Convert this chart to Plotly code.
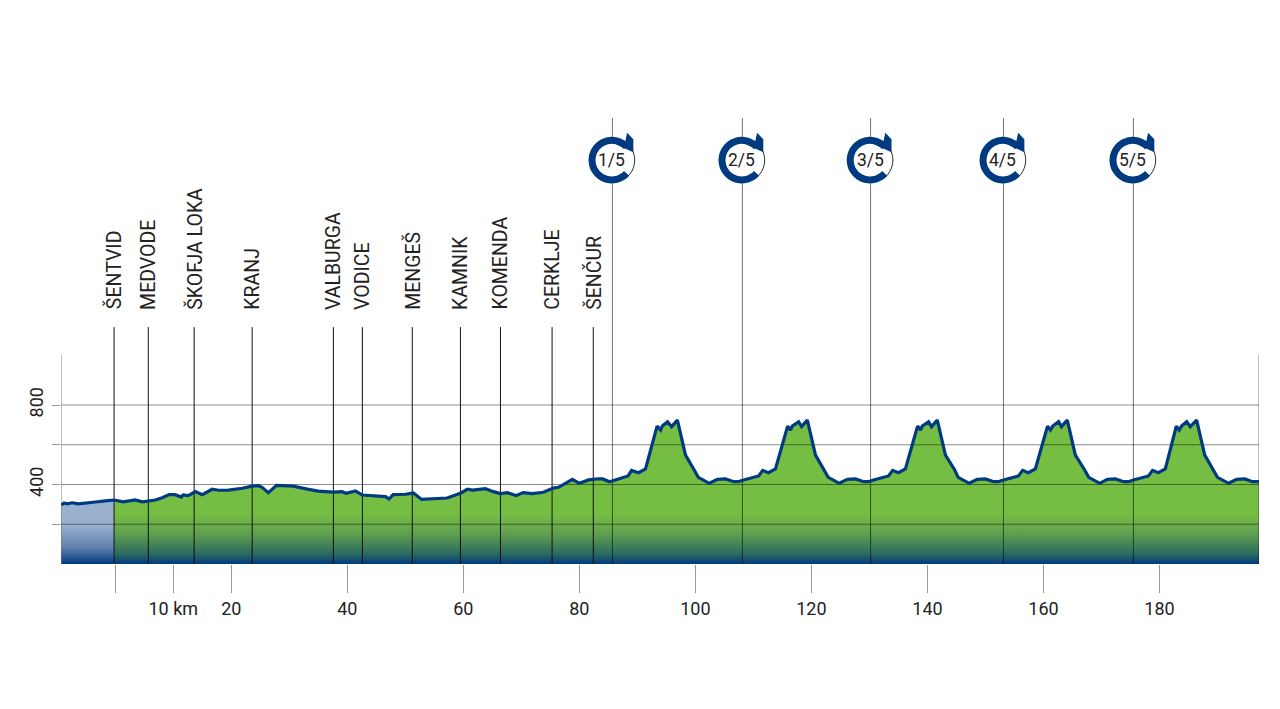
import math
import plotly.graph_objects as go

# neutral section
neutral_km = [-9.3,-8.8,-8.3,-7.4,-6.4,-5.2,-3.4,-1.7,-0.2]
neutral_m = [297,307,303,308,303,305,312,318,322]

# race section
race_km = [-0.2,1.4,3.4,4.7,6.9,8.1,9.3,10.3,11.4,11.7,12.6,13.8,15.0,16.7,17.8,19.5,21.9,23.6,24.7,25.3,26.4,27.8,30.7,33.1,35.0,37.6,39.1,39.8,41.4,42.6,44.5,46.6,47.2,47.9,50.0,51.4,52.8,55.5,57.2,59.5,60.7,61.6,63.8,65.2,66.4,67.6,69.1,70.3,71.9,73.8,75.5,76.4,78.8,80.0,81.6,83.3,84.0,85.2,
88.4,89.0,90.2,91.4,93.4,94.0,94.3,95.2,95.9,96.9,98.3,99.8,100.5,102.4,103.8,105.2,106.6,107.4,108.3,
110.9,111.6,112.6,113.8,115.9,116.4,116.7,117.8,118.3,119.3,120.7,122.2,122.9,124.8,126.2,127.6,129.0,129.8,130.7,
133.3,134.0,135.0,136.2,138.3,138.8,139.1,140.2,140.7,141.7,143.1,144.7,145.3,147.2,148.6,150.0,151.4,152.2,153.1,
155.7,156.4,157.4,158.6,160.7,161.2,161.6,162.6,163.1,164.1,165.5,167.1,167.8,169.7,171.0,172.4,173.8,174.7,175.5,
178.1,178.8,179.8,181.0,182.9,183.4,183.8,184.7,185.3,186.4,187.8,189.3,190.0,191.9,193.3,194.7,196.0,197.2]
race_m = [322,313,322,313,322,333,349,349,337,347,344,364,349,376,371,372,381,392,394,386,359,396,392,377,367,362,364,356,367,347,342,339,327,349,351,357,325,327,332,356,376,372,379,364,354,359,344,359,354,361,382,386,426,406,423,429,428,414,
443,471,459,478,694,674,694,716,691,724,548,473,436,406,426,428,414,414,423,
443,471,459,478,694,674,694,716,691,724,548,473,436,406,426,428,414,414,423,
443,471,459,478,694,674,694,716,691,724,548,473,436,406,426,428,414,414,423,
443,471,459,478,694,674,694,716,691,724,548,473,436,406,426,428,414,414,423,
443,471,459,478,694,674,694,716,691,724,548,473,436,406,426,428,414,414]

towns = ["ŠENTVID","MEDVODE","ŠKOFJA LOKA","KRANJ","VALBURGA","VODICE","MENGEŠ","KAMNIK","KOMENDA","CERKLJE","ŠENČUR"]
town_km = [-0.2,5.7,13.6,23.6,37.6,42.6,51.2,59.5,66.4,75.3,82.4]
lap_labels = ["1/5","2/5","3/5","4/5","5/5"]
lap_km = [85.7,108.1,130.2,153.1,175.5]
x_tick_vals = [0,10,20,40,60,80,100,120,140,160,180]
x_tick_text = ["","10 km","20","40","60","80","100","120","140","160","180"]
y_tick_vals = [200,400,600,800]
y_tick_text = ["","400","","800"]

X0, X1 = -9.35, 197.15
Y_TOP = 2244
AXIS_TOP = 1051
TOWN_LINE_TOP = 1192
TOWN_LABEL_Y = 1270
ICON_Y = 2032

BLUE = "#003a80"
GREEN = "#76bd43"
GREY = "rgba(0,0,0,0.45)"
FONT = "Roboto"

fig = go.Figure()

def vlines(xs, top):
    x, y = [], []
    for v in xs:
        x += [v, v, None]
        y += [0, top, None]
    return x, y

fig.add_trace(go.Scatter(
    x=neutral_km, y=neutral_m, mode="lines", line=dict(width=0), fill="tozeroy",
    fillgradient=dict(type="vertical", start=0, stop=230,
                      colorscale=[[0, BLUE], [0.35, "#5f7fae"], [0.85, "#9bb0cf"], [1, "#9bb0cf"]]),
    hoverinfo="skip", showlegend=False))
fig.add_trace(go.Scatter(
    x=race_km, y=race_m, mode="lines", line=dict(width=0), fill="tozeroy",
    fillgradient=dict(type="vertical", start=0, stop=250,
                      colorscale=[[0, BLUE], [0.2, "#2a6a60"], [0.6, "#5f9f50"], [1, GREEN]]),
    hoverinfo="skip", showlegend=False))

# gridlines
gx, gy = [], []
for v in y_tick_vals:
    gx += [X0, X1, None]
    gy += [v, v, None]
fig.add_trace(go.Scatter(x=gx, y=gy, mode="lines", line=dict(color=GREY, width=1),
                         hoverinfo="skip", showlegend=False))
# frame sides
x, y = vlines([X0, X1], AXIS_TOP)
fig.add_trace(go.Scatter(x=x, y=y, mode="lines", line=dict(color="rgba(0,0,0,0.5)", width=1),
                         hoverinfo="skip", showlegend=False))
# lap lines
x, y = vlines(lap_km, Y_TOP)
fig.add_trace(go.Scatter(x=x, y=y, mode="lines", line=dict(color="rgba(0,0,0,0.55)", width=1),
                         hoverinfo="skip", showlegend=False))
# town lines
x, y = vlines(town_km, TOWN_LINE_TOP)
fig.add_trace(go.Scatter(x=x, y=y, mode="lines", line=dict(color="#111111", width=1),
                         hoverinfo="skip", showlegend=False))
# profile line
fig.add_trace(go.Scatter(x=neutral_km + race_km[1:], y=neutral_m + race_m[1:], mode="lines",
                         line=dict(color=BLUE, width=3.2), hoverinfo="skip", showlegend=False))

def arc(r, a0, a1, n=40):
    pts = []
    for i in range(n + 1):
        a = math.radians(a0 + (a1 - a0) * i / n)
        pts.append((r * math.cos(a), r * math.sin(a)))
    return pts

def to_path(pts, close=True):
    s = "M " + " L ".join(f"{a:.2f},{b:.2f}" for a, b in pts)
    return s + (" Z" if close else "")

ring = arc(23.3, 42, 318) + arc(16.3, 318, 42)
ring_path = to_path(ring)
head_path = to_path([(15.3, 27.3), (21.5, 21), (21.5, 8), (3, 16.5), (13, 17)])
thin_path = to_path(arc(22.8, 30, -50, 20), close=False)

shapes = []
annotations = []
for km, lab in zip(lap_km, lap_labels):
    cx = km - 0.1
    common = dict(xref="x", yref="y", xsizemode="pixel", ysizemode="pixel", xanchor=cx, yanchor=ICON_Y)
    shapes.append(dict(type="circle", x0=-23, x1=23, y0=-23, y1=23,
                       fillcolor="white", line=dict(width=0), **common))
    shapes.append(dict(type="path", path=thin_path, line=dict(color="#222222", width=1), **common))
    shapes.append(dict(type="path", path=ring_path, fillcolor=BLUE, line=dict(width=0), **common))
    shapes.append(dict(type="path", path=head_path, fillcolor=BLUE, line=dict(width=0), **common))
    annotations.append(dict(x=cx, y=ICON_Y, xref="x", yref="y", text=lab, showarrow=False,
                            font=dict(family=FONT, size=17.5, color="#222222")))

for km, name in zip(town_km, towns):
    annotations.append(dict(x=km, y=TOWN_LABEL_Y, xref="x", yref="y", text=name, showarrow=False,
                            textangle=-90, xanchor="center", yanchor="bottom",
                            font=dict(family=FONT, size=19.5, color="#222222")))

fig.update_layout(
    width=1280, height=709, autosize=False,
    margin=dict(l=61, r=21, t=118, b=145, pad=0),
    paper_bgcolor="white", plot_bgcolor="white", showlegend=False,
    shapes=shapes, annotations=annotations,
    font=dict(family=FONT, size=18, color="#222222"),
    xaxis=dict(range=[X0, X1], tickmode="array", tickvals=x_tick_vals, ticktext=x_tick_text,
               ticks="outside", ticklen=28, tickwidth=1, tickcolor="#999999",
               showgrid=False, zeroline=False, showline=False, tickangle=0,
               tickfont=dict(family=FONT, size=18, color="#222222")),
    yaxis=dict(range=[0, Y_TOP], tickmode="array", tickvals=y_tick_vals, ticktext=y_tick_text,
               ticks="outside", ticklen=8, tickwidth=1, tickcolor="#999999",
               showgrid=False, zeroline=False, showline=False, tickangle=-90,
               ticklabelstandoff=2,
               tickfont=dict(family=FONT, size=18, color="#222222")),
)

fig.write_html("out.html", config=dict(displayModeBar=False),
               post_script="document.body.style.margin='0';")
